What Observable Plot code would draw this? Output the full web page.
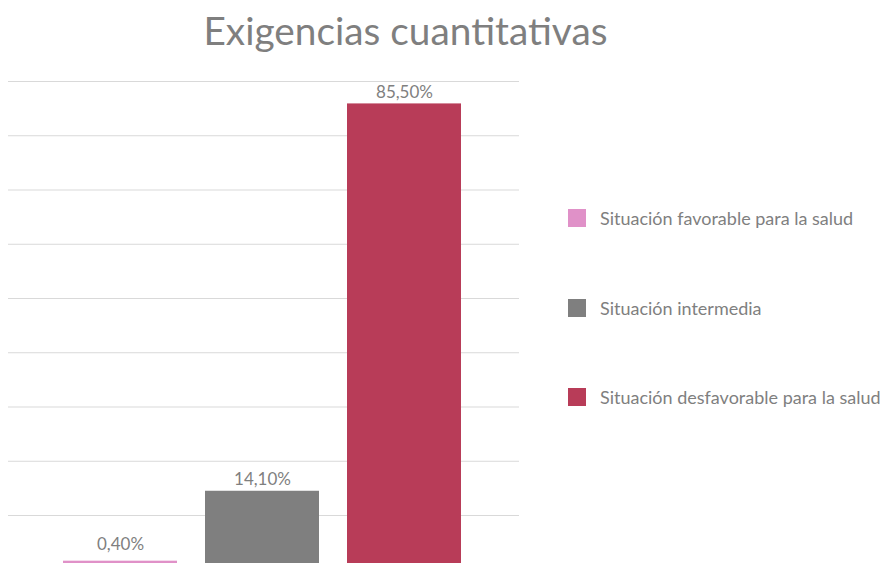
<!DOCTYPE html>
<html>
<head>
<meta charset="utf-8">
<script src="https://cdn.jsdelivr.net/npm/d3@7"></script>
<script src="https://cdn.jsdelivr.net/npm/@observablehq/plot@0.6"></script>
<style>
  html, body { margin: 0; padding: 0; background: #fff; }
  #wrap { position: relative; width: 884px; height: 563px; overflow: hidden; font-family: Lato, "Open Sans", sans-serif; color: #7f7f7f; }
  #title { position: absolute; left: 0; width: 811px; top: 8px; text-align: center; font-size: 38.8px; line-height: 44px; color: #7f7f7f; }
  #chart { position: absolute; left: 0; top: 0; }
  .leg { position: absolute; left: 568px; height: 18px; display: flex; align-items: center; font-size: 18px; white-space: nowrap; }
  .leg .sw { width: 18px; height: 18px; margin-right: 14px; box-sizing: border-box; }
</style>
</head>
<body>
<div id="wrap">
  <div id="chart"></div>
  <div id="title">Exigencias cuantitativas</div>
  <div id="legend"></div>
</div>
<script>
const categories = ["Situación favorable para la salud", "Situación intermedia", "Situación desfavorable para la salud"];
const values = [0.40, 14.10, 85.50];
const valueLabels = ["0,40%", "14,10%", "85,50%"];
const colors = ["#e091c8", "#7f7f7f", "#b83c58"];
const gridTicks = [10, 20, 30, 40, 50, 60, 70, 80, 90];
const legendTops = [209, 299, 388];

const rows = categories.map((c, i) => ({category: c, value: values[i], label: valueLabels[i]}));
const small = rows.filter(d => d.value < 1);
const large = rows.filter(d => d.value >= 1);

const chart = Plot.plot({
  width: 884,
  height: 600,
  marginLeft: 8,
  marginRight: 365,
  marginTop: 81,
  marginBottom: 30.75,
  style: {fontFamily: "Lato, 'Open Sans', sans-serif", fontSize: "17px", color: "#7f7f7f", background: "transparent"},
  x: {domain: categories, padding: 0.2, paddingOuter: 0.3955, align: 0.486, axis: null},
  y: {domain: [0, 90], axis: null},
  color: {domain: categories, range: colors},
  marks: [
    Plot.ruleY(gridTicks, {stroke: "#d9d9d9", strokeWidth: 1}),
    Plot.barY(rows, {x: "category", y: "value", fill: "category", insetTop: -2}),
    Plot.barY(small, {x: "category", y: "value", fill: "category", insetTop: -6.4}),
    Plot.text(large, {x: "category", y: "value", text: "label", lineAnchor: "bottom", dy: -8}),
    Plot.text(small, {x: "category", y: "value", text: "label", lineAnchor: "bottom", dy: -18})
  ]
});
document.getElementById("chart").appendChild(chart);

const legend = document.getElementById("legend");
categories.forEach((c, i) => {
  const item = document.createElement("div");
  item.className = "leg";
  item.style.top = legendTops[i] + "px";
  const sw = document.createElement("span");
  sw.className = "sw";
  sw.style.background = colors[i];
  const t = document.createElement("span");
  t.textContent = c;
  item.appendChild(sw);
  item.appendChild(t);
  legend.appendChild(item);
});
</script>
</body>
</html>
